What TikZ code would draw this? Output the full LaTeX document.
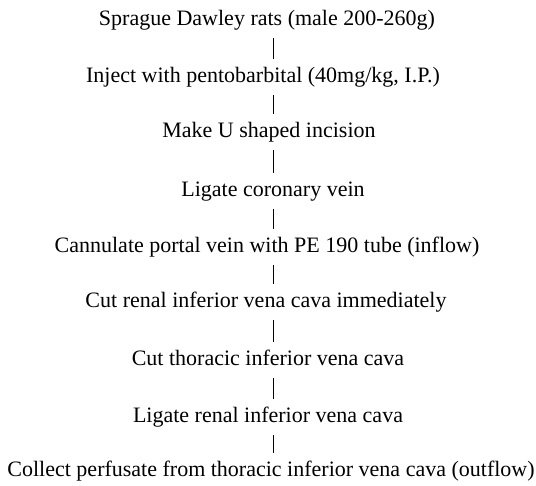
\documentclass[tikz,border=0pt]{standalone}
\usepackage{fontspec}
\setmainfont{Liberation Serif}
\tikzset{
  stepnode/.style={anchor=base, inner sep=0pt, text height=15pt, text depth=5pt, font=\fontsize{22}{24}\selectfont},
  link/.style={line width=0.9pt, shorten <=7pt, shorten >=9pt}
}
\begin{document}
\begin{tikzpicture}[x=1pt,y=-1pt]
\useasboundingbox (0,0) rectangle (536,486);
\node[stepnode] (n1) at (267,26) {Sprague Dawley rats (male 200-260g)};
\node[stepnode] (n2) at (263,83) {Inject with pentobarbital (40mg/kg, I.P.)};
\node[stepnode] (n3) at (269,138) {Make U shaped incision};
\node[stepnode] (n4) at (273,197) {Ligate coronary vein};
\node[stepnode] (n5) at (267,253) {Cannulate portal vein with PE 190 tube (inflow)};
\node[stepnode] (n6) at (266,308) {Cut renal inferior vena cava immediately};
\node[stepnode] (n7) at (268,366) {Cut thoracic inferior vena cava};
\node[stepnode] (n8) at (268,423) {Ligate renal inferior vena cava};
\node[stepnode] (n9) at (271,477) {Collect perfusate from thoracic inferior vena cava (outflow)};
\foreach \a/\b in {n1/n2,n2/n3,n3/n4,n4/n5,n5/n6,n6/n7,n7/n8,n8/n9}
  \draw[link] (\a.south -| 273,0) -- (\b.north -| 273,0);
\end{tikzpicture}
\end{document}
